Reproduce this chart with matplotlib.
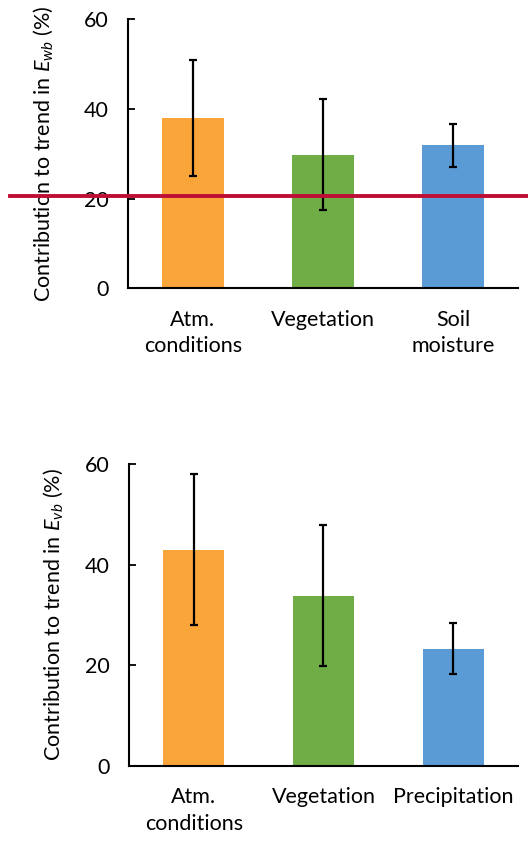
import matplotlib.pyplot as plt

plt.rcParams['font.family'] = ['Lato', 'DejaVu Sans']
plt.rcParams['mathtext.fontset'] = 'custom'
plt.rcParams['mathtext.rm'] = 'Lato'
plt.rcParams['mathtext.it'] = 'Lato:italic'

# contributions to the trend, upper panel (Ewb)
top_labels = ['Atm.\nconditions', 'Vegetation', 'Soil\nmoisture']
top_values = [38.0, 29.8, 31.9]
top_err = [12.9, 12.4, 4.85]
top_ref = 20.6

# lower panel (Evb)
bot_labels = ['Atm.\nconditions', 'Vegetation', 'Precipitation']
bot_values = [43.0, 33.8, 23.3]
bot_err = [15.0, 14.0, 5.05]

colors = ['#F9A53A', '#70AD47', '#5B9BD5']
fs = 15.5

fig = plt.figure(figsize=(5.28, 8.42), dpi=100)
ax1 = fig.add_axes([0.2424, 0.6576, 0.7386, 0.3195])
ax2 = fig.add_axes([0.2443, 0.0906, 0.7367, 0.3583])


def draw_panel(ax, labels, values, err, ylabel, label_x):
    x = range(len(values))
    ax.bar(x, values, width=0.47, color=colors, zorder=2)
    ax.errorbar(x, values, yerr=err, fmt='none', ecolor='black',
                elinewidth=1.6, capsize=3, capthick=1.6, zorder=3)
    ax.set_xlim(-0.5, 2.5)
    ax.set_ylim(0, 60)
    ax.set_yticks([0, 20, 40, 60])
    ax.set_xticks(list(x))
    ax.set_xticklabels(labels, fontsize=fs, linespacing=1.4)
    ax.tick_params(axis='x', length=0, pad=15.5)
    ax.tick_params(axis='y', direction='in', length=5, width=1.3,
                   labelsize=fs, pad=14)
    for s in ['top', 'right']:
        ax.spines[s].set_visible(False)
    for s in ['left', 'bottom']:
        ax.spines[s].set_linewidth(1.5)
    ax.set_ylabel(ylabel, fontsize=fs)
    ax.yaxis.set_label_coords(label_x, 0.5)


draw_panel(ax1, top_labels, top_values, top_err,
           r'Contribution to trend in $E_{wb}$ (%)', -0.187)
draw_panel(ax2, bot_labels, bot_values, bot_err,
           r'Contribution to trend in $E_{vb}$ (%)', -0.164)

# reference line across the upper panel
ax1.axhline(top_ref, xmin=-0.303, xmax=1.03, color='#C00D35',
            linewidth=2.8, clip_on=False, zorder=4)

fig.savefig('out.png', dpi=100)
